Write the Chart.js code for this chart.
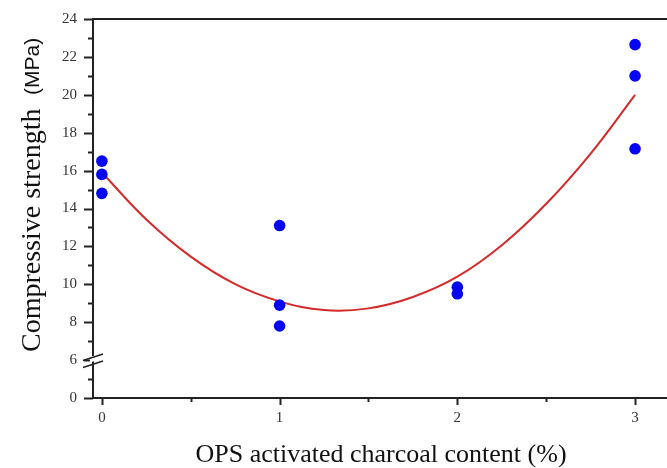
<!DOCTYPE html>
<html>
<head>
<meta charset="utf-8">
<style>
  html, body { margin: 0; padding: 0; background: #fff; }
  #wrap { width: 667px; height: 468px; position: relative; }
</style>
<script src="https://cdn.jsdelivr.net/npm/chart.js@4.4.1/dist/chart.umd.min.js"></script>
</head>
<body>
<div id="wrap"><canvas id="strength-chart" width="667" height="468"></canvas></div>
<script>
// measured samples (x = activated charcoal %, y = compressive strength MPa)
var sampleX = [0, 0, 0, 1, 1, 1, 2, 2, 3, 3, 3];
var sampleY = [16.5, 15.8, 14.8, 13.1, 8.9, 7.8, 9.85, 9.5, 22.65, 21.0, 17.15];

// fitted curve
var fitX = [0, 0.25, 0.5, 0.75, 1, 1.25, 1.5, 1.75, 2, 2.25, 2.5, 2.75, 3];
var fitY = [15.9, 13.42, 11.46, 10.01, 9.1, 8.64, 8.73, 9.33, 10.4, 12.06, 14.25, 16.9, 20.0];

// y axis is broken: the "0" tick sits at scale value 4, just below the break
var yTickValues = [4, 6, 8, 10, 12, 14, 16, 18, 20, 22, 24];
var yTickLabels = ['0', '6', '8', '10', '12', '14', '16', '18', '20', '22', '24'];
var xTickValues = [0, 1, 2, 3];
var xTickLabels = ['0', '1', '2', '3'];

(function () {
  var ink = '#222';
  var tickFont = { family: "'Liberation Serif', 'Times New Roman', serif", size: 15 };

  function pairs(xs, ys) {
    return xs.map(function (x, i) { return { x: x, y: ys[i] }; });
  }

  function noPad(scale) {
    scale.paddingTop = 0;
    scale.paddingBottom = 0;
    scale.paddingLeft = 0;
    scale.paddingRight = 0;
  }

  var framePlugin = {
    id: 'frame',
    afterDraw: function (chart) {
      var ctx = chart.ctx;
      var area = chart.chartArea;
      var xs = chart.scales.x;
      var ys = chart.scales.y;
      ctx.save();
      ctx.strokeStyle = ink;
      ctx.lineWidth = 2;

      // top frame line (runs off the right edge in the original)
      ctx.beginPath();
      ctx.moveTo(area.left - 1, area.top);
      ctx.lineTo(chart.width, area.top);
      ctx.stroke();
      // x axis line continued to the edge as well
      ctx.beginPath();
      ctx.moveTo(area.right - 1, area.bottom);
      ctx.lineTo(chart.width, area.bottom);
      ctx.stroke();

      // y ticks, major every 2, minor every 1
      for (var v = 4; v <= 24; v++) {
        var py = Math.round(ys.getPixelForValue(v)) + 0.5;
        var len = (v % 2 === 0) ? 9 : 5;
        ctx.beginPath();
        ctx.moveTo(area.left - len, py);
        ctx.lineTo(area.left, py);
        ctx.stroke();
      }

      // x ticks, major every 1, minor every 0.5
      for (var k = 0; k <= 6; k++) {
        var px = Math.round(xs.getPixelForValue(k / 2)) + 0.5;
        var l2 = (k % 2 === 0) ? 7 : 4;
        ctx.beginPath();
        ctx.moveTo(px, area.bottom);
        ctx.lineTo(px, area.bottom + l2);
        ctx.stroke();
      }

      // axis break marks
      var ax = area.left;
      var c = ys.getPixelForValue(5.95);
      ctx.fillStyle = '#fff';
      ctx.beginPath();
      ctx.moveTo(ax - 3, c + 1.5);
      ctx.lineTo(ax + 3, c - 0.5);
      ctx.lineTo(ax + 3, c - 6);
      ctx.lineTo(ax - 3, c - 4);
      ctx.closePath();
      ctx.fill();
      ctx.lineWidth = 1.6;
      ctx.beginPath();
      ctx.moveTo(ax - 10, c - 0.5);
      ctx.lineTo(ax + 10, c - 7);
      ctx.moveTo(ax - 10, c + 6.5);
      ctx.lineTo(ax + 10, c);
      ctx.stroke();

      // axis titles
      ctx.fillStyle = '#111';
      ctx.textBaseline = 'middle';
      ctx.textAlign = 'center';
      ctx.font = "26px 'Liberation Serif', 'Times New Roman', serif";
      ctx.fillText('OPS activated charcoal content (%)', 381, 455);

      ctx.translate(33, 352);
      ctx.rotate(-Math.PI / 2);
      ctx.textAlign = 'left';
      ctx.font = "28px 'Liberation Serif', 'Times New Roman', serif";
      ctx.fillText('Compressive strength', 0, 0);
      ctx.font = "21px 'Liberation Sans', Arial, sans-serif";
      ctx.fillText('(MPa)', 257, 0);
      ctx.restore();
    }
  };

  new Chart(document.getElementById('strength-chart').getContext('2d'), {
    type: 'scatter',
    data: {
      datasets: [
        {
          label: 'samples',
          data: pairs(sampleX, sampleY),
          backgroundColor: '#0505f5',
          borderWidth: 0,
          pointRadius: 5.8,
          pointHoverRadius: 5.8,
          order: 0
        },
        {
          label: 'fit',
          type: 'line',
          data: pairs(fitX, fitY),
          borderColor: '#d42a2a',
          borderWidth: 2,
          pointRadius: 0,
          tension: 0.4,
          fill: false,
          order: 1
        }
      ]
    },
    options: {
      responsive: false,
      animation: false,
      layout: { padding: { top: 19, left: 0, right: 0, bottom: 0 } },
      plugins: {
        legend: { display: false },
        tooltip: { enabled: false }
      },
      scales: {
        x: {
          type: 'linear',
          min: -0.05,
          max: 3.147,
          afterBuildTicks: function (scale) {
            scale.ticks = xTickValues.map(function (v) { return { value: v }; });
          },
          afterFit: function (scale) { scale.height = 70; noPad(scale); },
          grid: { display: true, drawOnChartArea: false, drawTicks: false },
          border: { display: true, color: ink, width: 2 },
          ticks: {
            padding: 11,
            color: '#333',
            font: tickFont,
            maxRotation: 0,
            callback: function (value) {
              var i = xTickValues.indexOf(value);
              return i >= 0 ? xTickLabels[i] : '';
            }
          }
        },
        y: {
          type: 'linear',
          min: 4,
          max: 24,
          afterBuildTicks: function (scale) {
            scale.ticks = yTickValues.map(function (v) { return { value: v }; });
          },
          afterFit: function (scale) { scale.width = 93; noPad(scale); },
          grid: { display: true, drawOnChartArea: false, drawTicks: false },
          border: { display: true, color: ink, width: 2 },
          ticks: {
            padding: 16,
            color: '#333',
            font: tickFont,
            callback: function (value) {
              var i = yTickValues.indexOf(value);
              return i >= 0 ? yTickLabels[i] : '';
            }
          }
        }
      }
    },
    plugins: [framePlugin]
  });
})();
</script>
</body>
</html>
